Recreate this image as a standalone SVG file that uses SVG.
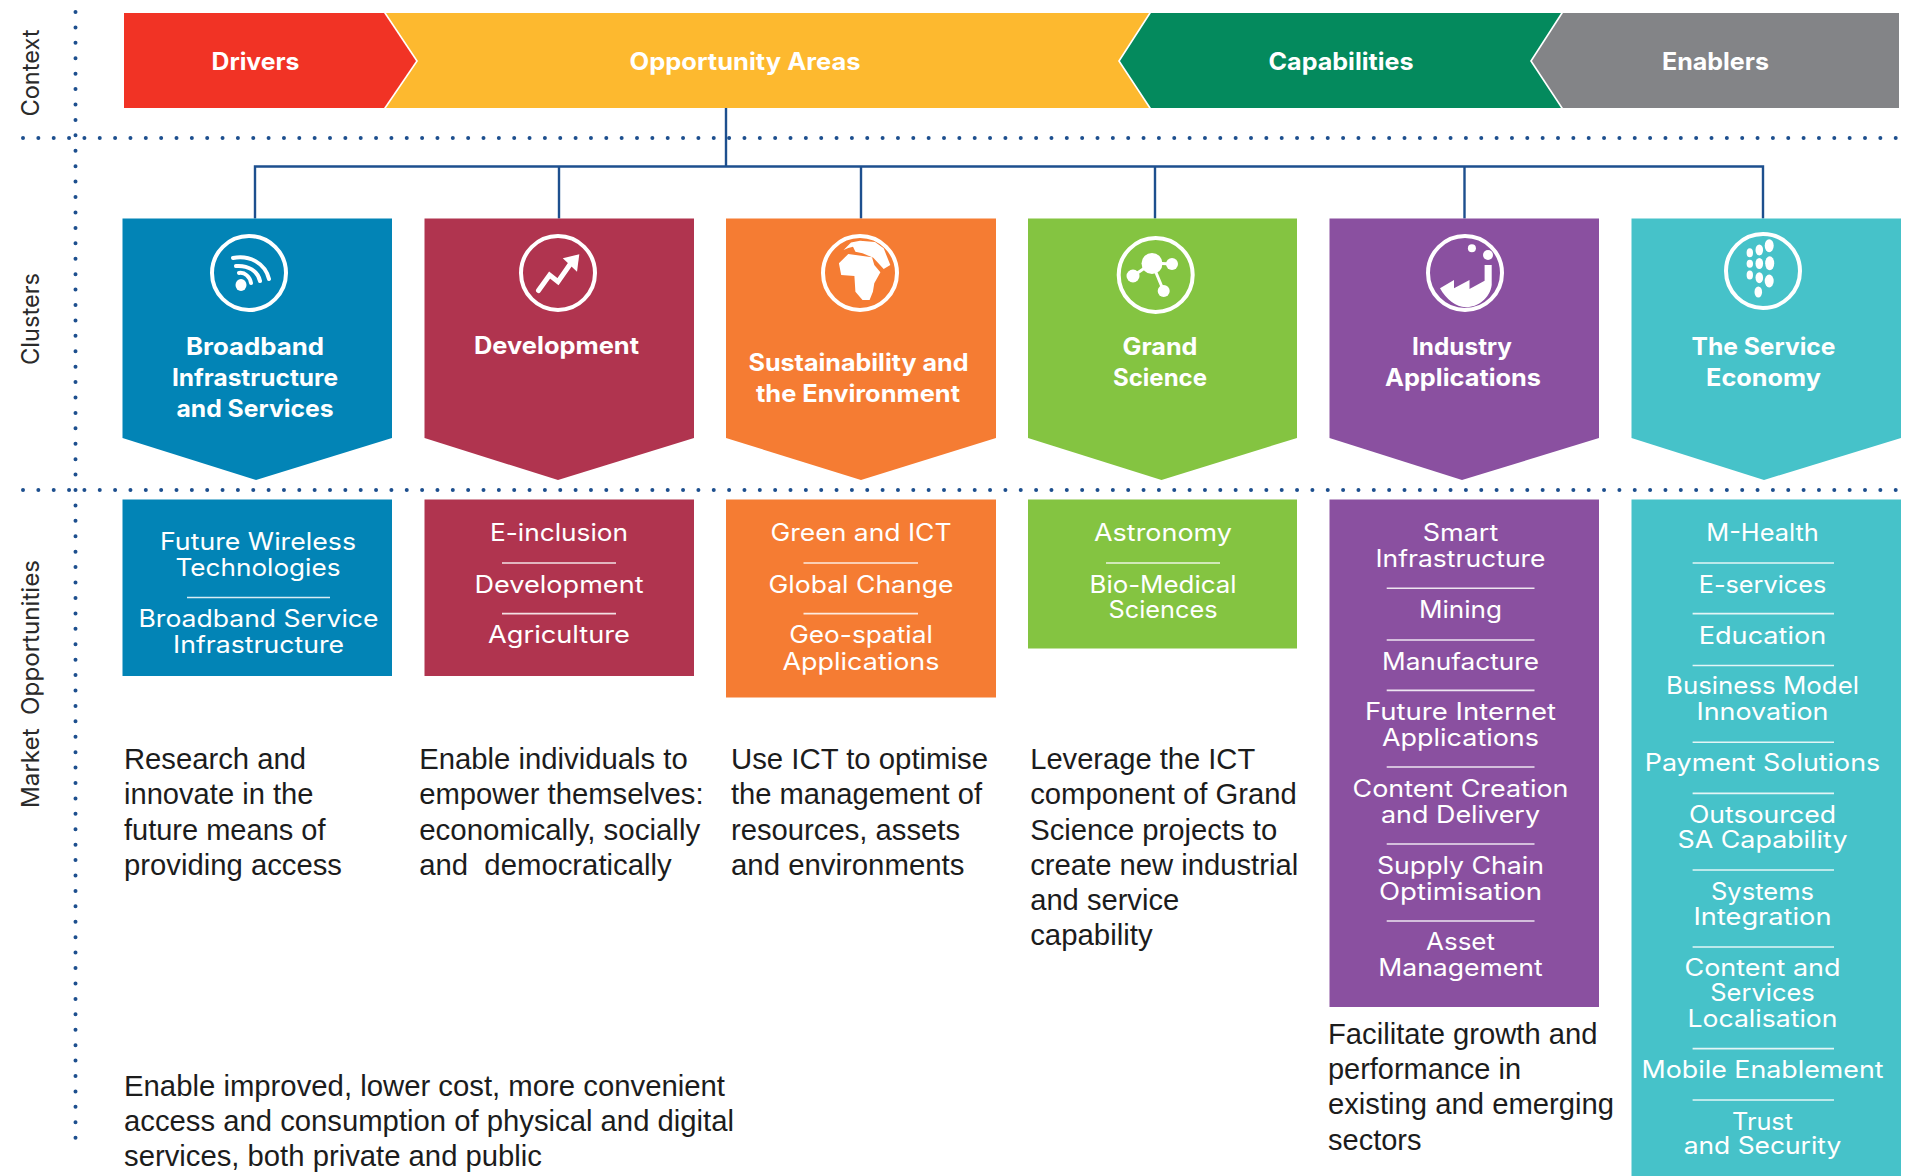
<svg xmlns="http://www.w3.org/2000/svg" width="1905" height="1176" viewBox="0 0 1905 1176">
<style>
text{font-family:"Inter","Open Sans","Liberation Sans",sans-serif;fill:#fff;text-anchor:middle;white-space:pre}
.h{font-size:24px;font-weight:700;letter-spacing:0}
.t{font-size:24px;font-weight:400}
.p{font-family:"Liberation Sans",Arial,sans-serif;font-size:29px;fill:#1c1c1c;text-anchor:start}
.s{font-size:24px;fill:#2a2a2a}
.r{stroke:#fff;stroke-width:1.6;opacity:.85}
.d{fill:none;stroke:#1d4f8e;stroke-width:4;stroke-linecap:round;stroke-dasharray:0 15.35}
.v{stroke-dasharray:0 15.42}
.c{fill:none;stroke:#1d4f8e;stroke-width:2.4}
.ring{fill:none;stroke:#fff;stroke-width:4}
.w{fill:#fff;stroke:none}
.ws{fill:none;stroke:#fff;stroke-linecap:round}
</style>

<g id="gridlines">
<line class="d v" x1="75.5" y1="12" x2="75.5" y2="1140"/>
<line class="d" x1="23" y1="138" x2="1905" y2="138"/>
<line class="d" x1="23" y1="490" x2="1905" y2="490"/>
</g>

<g id="side-labels">
<text class="s" transform="translate(39 73) rotate(-90)" textLength="87" lengthAdjust="spacingAndGlyphs">Context</text>
<text class="s" transform="translate(39 319) rotate(-90)" textLength="92" lengthAdjust="spacingAndGlyphs">Clusters</text>
<text class="s" transform="translate(39 684) rotate(-90)" textLength="248" lengthAdjust="spacingAndGlyphs">Market  Opportunities</text>
</g>

<g id="connectors">
<path class="c" d="M726 108V166.500M255 218.500V166.500H1763V218.500M559 166.500V218.500M861 166.500V218.500M1155 166.500V218.500M1464.500 166.500V218.500"/>
</g>

<g id="drivers"><polygon fill="#f13325" points="124,13 384,13 416,61 384,108 124,108"/><text class="h" x="255.500" y="70" textLength="88" lengthAdjust="spacingAndGlyphs">Drivers</text></g>
<g id="opportunity-areas"><polygon fill="#fdb92f" points="386,13 1149,13 1118,61 1149,108 386,108 418,61"/><text class="h" x="745" y="70" textLength="231" lengthAdjust="spacingAndGlyphs">Opportunity Areas</text></g>
<g id="capabilities"><polygon fill="#048a5d" points="1151,13 1561,13 1530,61 1561,108 1151,108 1120,61"/><text class="h" x="1341" y="70" textLength="145" lengthAdjust="spacingAndGlyphs">Capabilities</text></g>
<g id="enablers"><polygon fill="#838487" points="1563,13 1899,13 1899,108 1563,108 1532,61"/><text class="h" x="1715.500" y="70" textLength="107" lengthAdjust="spacingAndGlyphs">Enablers</text></g>

<g id="cluster-broadband">
<polygon fill="#0284b6" points="122.500,218.500 392,218.500 392,438 256,480 122.500,438"/>
<circle class="ring" cx="249" cy="273" r="37"/>
<ellipse class="w" cx="241" cy="285" rx="5.500" ry="6"/>
<path class="ws" stroke-width="4" d="M233 258C250 255 265 263 269 279M236 266C248 265 258 271 260 281M239 273C245 272 250 277 251 283"/>
<text class="h" x="255" y="355" textLength="138" lengthAdjust="spacingAndGlyphs">Broadband</text>
<text class="h" x="255" y="386" textLength="166" lengthAdjust="spacingAndGlyphs">Infrastructure</text>
<text class="h" x="255" y="417" textLength="157" lengthAdjust="spacingAndGlyphs">and Services</text>
</g>

<g id="cluster-development">
<polygon fill="#b0344f" points="424.500,218.500 694,218.500 694,438 558,480 424.500,438"/>
<circle class="ring" cx="558" cy="273" r="37"/>
<polyline class="ws" stroke-width="5" stroke-linejoin="miter" points="538.500,290.500 549.600,275 558,281.700 571,263"/>
<polygon class="w" points="579.300,254.300 562.800,258.300 577,271.700"/>
<text class="h" x="556.500" y="354" textLength="165" lengthAdjust="spacingAndGlyphs">Development</text>
</g>

<g id="cluster-sustainability">
<polygon fill="#f57c33" points="726,218.500 996,218.500 996,438 861,480 726,438"/>
<circle class="ring" cx="860" cy="273" r="37"/>
<polygon class="w" points="838.900,263.300 848.300,254 872,257.300 874.300,265 880.400,272.300 874.300,283.300 872.900,291.700 869.600,300 862.500,300 855.400,291.700 854.400,276 841.200,275"/>
<polygon class="w" points="843.600,250 851,242.500 860,240.700 875,242 883.700,248.300 890.300,265 883.700,269 873.300,257.700 862.500,253.300 855.400,251.700 853,246.700 848.300,248"/>
<text class="h" x="858.500" y="371" textLength="220" lengthAdjust="spacingAndGlyphs">Sustainability and</text>
<text class="h" x="858" y="402" textLength="204" lengthAdjust="spacingAndGlyphs">the Environment</text>
</g>

<g id="cluster-grand-science">
<polygon fill="#84c441" points="1028,218.500 1297,218.500 1297,438 1161.500,480 1028,438"/>
<circle class="ring" cx="1155.700" cy="275" r="37"/>
<path class="ws" stroke-width="3" d="M1152 263L1172 264M1152 263L1133 276M1152 263L1163.700 291"/>
<circle class="w" cx="1152" cy="263.500" r="10.500"/><circle class="w" cx="1172" cy="264" r="6"/><circle class="w" cx="1133" cy="276" r="6.500"/><circle class="w" cx="1163.700" cy="291" r="6"/>
<text class="h" x="1160" y="355" textLength="75" lengthAdjust="spacingAndGlyphs">Grand</text>
<text class="h" x="1160" y="386" textLength="94" lengthAdjust="spacingAndGlyphs">Science</text>
</g>

<g id="cluster-industry">
<polygon fill="#8a50a0" points="1329.500,218.500 1599,218.500 1599,438 1462,480 1329.500,438"/>
<circle class="ring" cx="1465" cy="273" r="37"/>
<path class="w" d="M1440 288.300L1454 280V288.300L1469.500 280V289L1484.600 280.700V265H1491.700V285C1490 298 1478 307.300 1465.700 307.300C1456 307.300 1446 299 1440 288.300Z"/>
<circle class="w" cx="1471.900" cy="248.300" r="4"/><circle class="w" cx="1488" cy="255" r="5"/>
<text class="h" x="1462" y="355" textLength="100" lengthAdjust="spacingAndGlyphs">Industry</text>
<text class="h" x="1463" y="386" textLength="156" lengthAdjust="spacingAndGlyphs">Applications</text>
</g>

<g id="cluster-service">
<polygon fill="#46c2c9" points="1631.500,218.500 1901,218.500 1901,438 1764,480 1631.500,438"/>
<circle class="ring" cx="1763" cy="271" r="37"/>
<g class="w">
<ellipse cx="1769.200" cy="245.700" rx="4.500" ry="6.500"/><ellipse cx="1759.300" cy="250" rx="3.800" ry="5.500"/><ellipse cx="1749.800" cy="252.700" rx="3.200" ry="4.500"/>
<ellipse cx="1769.700" cy="263.300" rx="4.500" ry="7"/><ellipse cx="1759.300" cy="263.500" rx="3.800" ry="5.500"/><ellipse cx="1749.800" cy="263.700" rx="3.200" ry="4"/>
<ellipse cx="1769.200" cy="281" rx="4.500" ry="6.500"/><ellipse cx="1759.300" cy="277.700" rx="3.800" ry="5.500"/><ellipse cx="1749.800" cy="275" rx="3.200" ry="4.500"/>
<ellipse cx="1758.300" cy="292" rx="3.800" ry="5.500"/>
</g>
<text class="h" x="1763.500" y="355" textLength="144" lengthAdjust="spacingAndGlyphs">The Service</text>
<text class="h" x="1763.500" y="386" textLength="115" lengthAdjust="spacingAndGlyphs">Economy</text>
</g>

<g id="market-broadband">
<rect fill="#0284b6" x="122.500" y="499.500" width="269.500" height="176.500"/>
<text class="t" x="258" y="550" textLength="196" lengthAdjust="spacingAndGlyphs">Future Wireless</text>
<text class="t" x="258" y="576" textLength="165" lengthAdjust="spacingAndGlyphs">Technologies</text>
<line class="r" x1="187" y1="597.500" x2="330" y2="597.500"/>
<text class="t" x="258.500" y="627" textLength="240" lengthAdjust="spacingAndGlyphs">Broadband Service</text>
<text class="t" x="258.500" y="653" textLength="171" lengthAdjust="spacingAndGlyphs">Infrastructure</text>
</g>

<g id="market-development">
<rect fill="#b0344f" x="424.500" y="499.500" width="269.500" height="176.500"/>
<text class="t" x="559" y="541" textLength="138" lengthAdjust="spacingAndGlyphs">E-inclusion</text>
<line class="r" x1="502" y1="563" x2="616" y2="563"/>
<text class="t" x="559" y="593" textLength="169" lengthAdjust="spacingAndGlyphs">Development</text>
<line class="r" x1="502" y1="613.600" x2="616" y2="613.600"/>
<text class="t" x="559" y="643" textLength="142" lengthAdjust="spacingAndGlyphs">Agriculture</text>
</g>

<g id="market-sustainability">
<rect fill="#f57c33" x="726" y="499.500" width="270" height="198"/>
<text class="t" x="861" y="541" textLength="181" lengthAdjust="spacingAndGlyphs">Green and ICT</text>
<line class="r" x1="803.500" y1="563" x2="918" y2="563"/>
<text class="t" x="861" y="593" textLength="185" lengthAdjust="spacingAndGlyphs">Global Change</text>
<line class="r" x1="803.500" y1="613.600" x2="918" y2="613.600"/>
<text class="t" x="861" y="643" textLength="143.500" lengthAdjust="spacingAndGlyphs">Geo-spatial</text>
<text class="t" x="861" y="669.500" textLength="157" lengthAdjust="spacingAndGlyphs">Applications</text>
</g>

<g id="market-grand-science">
<rect fill="#84c441" x="1028" y="499.500" width="269" height="149"/>
<text class="t" x="1163" y="541" textLength="138" lengthAdjust="spacingAndGlyphs">Astronomy</text>
<line class="r" x1="1106" y1="563" x2="1220" y2="563"/>
<text class="t" x="1163" y="593" textLength="147" lengthAdjust="spacingAndGlyphs">Bio-Medical</text>
<text class="t" x="1163" y="617.500" textLength="109" lengthAdjust="spacingAndGlyphs">Sciences</text>
</g>

<g id="market-industry">
<rect fill="#8a50a0" x="1329.500" y="499.500" width="269.500" height="507.500"/>
<text class="t" x="1460.500" y="541" textLength="75.500" lengthAdjust="spacingAndGlyphs">Smart</text>
<text class="t" x="1460.500" y="567" textLength="170" lengthAdjust="spacingAndGlyphs">Infrastructure</text>
<line class="r" x1="1386.700" y1="588.300" x2="1534.500" y2="588.300"/>
<text class="t" x="1460.500" y="618" textLength="83" lengthAdjust="spacingAndGlyphs">Mining</text>
<line class="r" x1="1386.700" y1="640" x2="1534.500" y2="640"/>
<text class="t" x="1460.500" y="670" textLength="157" lengthAdjust="spacingAndGlyphs">Manufacture</text>
<line class="r" x1="1386.700" y1="690.400" x2="1534.500" y2="690.400"/>
<text class="t" x="1460.500" y="720" textLength="191" lengthAdjust="spacingAndGlyphs">Future Internet</text>
<text class="t" x="1460.500" y="746" textLength="157" lengthAdjust="spacingAndGlyphs">Applications</text>
<line class="r" x1="1386.700" y1="767" x2="1534.500" y2="767"/>
<text class="t" x="1460.500" y="797" textLength="216" lengthAdjust="spacingAndGlyphs">Content Creation</text>
<text class="t" x="1460.500" y="823" textLength="159" lengthAdjust="spacingAndGlyphs">and Delivery</text>
<line class="r" x1="1386.700" y1="844" x2="1534.500" y2="844"/>
<text class="t" x="1460.500" y="873.500" textLength="167" lengthAdjust="spacingAndGlyphs">Supply Chain</text>
<text class="t" x="1460.500" y="900" textLength="163" lengthAdjust="spacingAndGlyphs">Optimisation</text>
<line class="r" x1="1386.700" y1="921" x2="1534.500" y2="921"/>
<text class="t" x="1460.500" y="949.500" textLength="69" lengthAdjust="spacingAndGlyphs">Asset</text>
<text class="t" x="1460.500" y="976" textLength="164.500" lengthAdjust="spacingAndGlyphs">Management</text>
</g>

<g id="market-service">
<rect fill="#46c2c9" x="1631.500" y="499.500" width="269.500" height="676.500"/>
<text class="t" x="1762.500" y="541" textLength="112.500" lengthAdjust="spacingAndGlyphs">M-Health</text>
<line class="r" x1="1692.600" y1="563" x2="1834" y2="563"/>
<text class="t" x="1762.500" y="593" textLength="127.500" lengthAdjust="spacingAndGlyphs">E-services</text>
<line class="r" x1="1692.600" y1="613.600" x2="1834" y2="613.600"/>
<text class="t" x="1762.500" y="643.500" textLength="127.500" lengthAdjust="spacingAndGlyphs">Education</text>
<line class="r" x1="1692.600" y1="665.500" x2="1834" y2="665.500"/>
<text class="t" x="1762.500" y="694" textLength="193" lengthAdjust="spacingAndGlyphs">Business Model</text>
<text class="t" x="1762.500" y="720" textLength="132" lengthAdjust="spacingAndGlyphs">Innovation</text>
<line class="r" x1="1692.600" y1="742.300" x2="1834" y2="742.300"/>
<text class="t" x="1762.500" y="771" textLength="235.500" lengthAdjust="spacingAndGlyphs">Payment Solutions</text>
<line class="r" x1="1692.600" y1="793.400" x2="1834" y2="793.400"/>
<text class="t" x="1762.500" y="823" textLength="147" lengthAdjust="spacingAndGlyphs">Outsourced</text>
<text class="t" x="1762.500" y="848" textLength="170" lengthAdjust="spacingAndGlyphs">SA Capability</text>
<line class="r" x1="1692.600" y1="870" x2="1834" y2="870"/>
<text class="t" x="1762.500" y="900" textLength="103" lengthAdjust="spacingAndGlyphs">Systems</text>
<text class="t" x="1762.500" y="924.500" textLength="138" lengthAdjust="spacingAndGlyphs">Integration</text>
<line class="r" x1="1692.600" y1="947" x2="1834" y2="947"/>
<text class="t" x="1762.500" y="976" textLength="156" lengthAdjust="spacingAndGlyphs">Content and</text>
<text class="t" x="1762.500" y="1001" textLength="104.500" lengthAdjust="spacingAndGlyphs">Services</text>
<text class="t" x="1762.500" y="1027" textLength="150" lengthAdjust="spacingAndGlyphs">Localisation</text>
<line class="r" x1="1692.600" y1="1048.600" x2="1834" y2="1048.600"/>
<text class="t" x="1762.500" y="1078" textLength="242" lengthAdjust="spacingAndGlyphs">Mobile Enablement</text>
<line class="r" x1="1692.600" y1="1100" x2="1834" y2="1100"/>
<text class="t" x="1762.500" y="1130" textLength="61" lengthAdjust="spacingAndGlyphs">Trust</text>
<text class="t" x="1762.500" y="1154" textLength="157.600" lengthAdjust="spacingAndGlyphs">and Security</text>
</g>

<g id="descriptions">
<text class="p" x="124" y="769" textLength="182" lengthAdjust="spacingAndGlyphs">Research and</text>
<text class="p" x="124" y="804" textLength="189.400" lengthAdjust="spacingAndGlyphs">innovate in the</text>
<text class="p" x="124" y="839.500" textLength="201.500" lengthAdjust="spacingAndGlyphs">future means of</text>
<text class="p" x="124" y="875" textLength="218" lengthAdjust="spacingAndGlyphs">providing access</text>
<text class="p" x="419.200" y="769" textLength="268.500" lengthAdjust="spacingAndGlyphs">Enable individuals to</text>
<text class="p" x="419.200" y="804" textLength="284.400" lengthAdjust="spacingAndGlyphs">empower themselves:</text>
<text class="p" x="419.200" y="839.500" textLength="281" lengthAdjust="spacingAndGlyphs">economically, socially</text>
<text class="p" x="419.200" y="875" textLength="252.500" lengthAdjust="spacingAndGlyphs">and  democratically</text>
<text class="p" x="731" y="769" textLength="257" lengthAdjust="spacingAndGlyphs">Use ICT to optimise</text>
<text class="p" x="731" y="804" textLength="251" lengthAdjust="spacingAndGlyphs">the management of</text>
<text class="p" x="731" y="839.500" textLength="229" lengthAdjust="spacingAndGlyphs">resources, assets</text>
<text class="p" x="731" y="875" textLength="233.400" lengthAdjust="spacingAndGlyphs">and environments</text>
<text class="p" x="1030.200" y="769" textLength="225" lengthAdjust="spacingAndGlyphs">Leverage the ICT</text>
<text class="p" x="1030.200" y="804" textLength="266.700" lengthAdjust="spacingAndGlyphs">component of Grand</text>
<text class="p" x="1030.200" y="839.500" textLength="247" lengthAdjust="spacingAndGlyphs">Science projects to</text>
<text class="p" x="1030.200" y="875" textLength="268" lengthAdjust="spacingAndGlyphs">create new industrial</text>
<text class="p" x="1030.200" y="910" textLength="149" lengthAdjust="spacingAndGlyphs">and service</text>
<text class="p" x="1030.200" y="945" textLength="122.400" lengthAdjust="spacingAndGlyphs">capability</text>
<text class="p" x="1328" y="1044" textLength="269.500" lengthAdjust="spacingAndGlyphs">Facilitate growth and</text>
<text class="p" x="1328" y="1079" textLength="193" lengthAdjust="spacingAndGlyphs">performance in</text>
<text class="p" x="1328" y="1114" textLength="286" lengthAdjust="spacingAndGlyphs">existing and emerging</text>
<text class="p" x="1328" y="1150" textLength="93.500" lengthAdjust="spacingAndGlyphs">sectors</text>
<text class="p" x="124" y="1096" textLength="601" lengthAdjust="spacingAndGlyphs">Enable improved, lower cost, more convenient</text>
<text class="p" x="124" y="1131" textLength="610" lengthAdjust="spacingAndGlyphs">access and consumption of physical and digital</text>
<text class="p" x="124" y="1166" textLength="418" lengthAdjust="spacingAndGlyphs">services, both private and public</text>
</g>
</svg>
